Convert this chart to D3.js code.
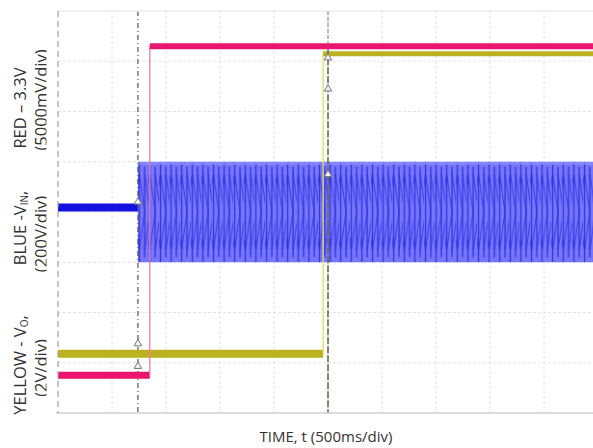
<!DOCTYPE html>
<html>
<head>
<meta charset="utf-8">
<script src="https://cdn.jsdelivr.net/npm/d3@7"></script>
<style>
  html, body { margin: 0; padding: 0; background: #fff; }
  svg { display: block; }
  text { font-family: "Open Sans", "DejaVu Sans", sans-serif; fill: #333; }
</style>
</head>
<body>
<svg id="chart" width="593" height="448"></svg>
<script>
// ---- data (time in ms, levels in screen divisions from bottom) ----
const timeGrid = [-2500, -2000, -1500, -1000, -500, 0, 500, 1000, 1500, 2000, 2500];
const levelGrid = [0, 1, 2, 3, 4, 5, 6, 7, 8];

const redTime = [-2500, -1650, -1650, 2500];
const redLevel = [0.75, 0.75, 7.30, 7.30];

const yellowTime = [-2500, -45, -45, 2500];
const yellowLevel = [1.18, 1.18, 7.15, 7.15];

const blueTime = [-2500, -1760];
const blueLevel = [4.09, 4.09];

const blueBandTime = [-1760, 2500];
const blueBandMax = [5.0, 5.0];
const blueBandMin = [3.0, 3.0];

const cursorTimes = [-1760, 0];
const markerTime = [-1760, -1760, -1760, 0, 0, 0];
const markerLevel = [4.2, 1.38, 0.93, 7.07, 6.45, 4.75];

const yLabels = [
  { line1: ["RED – 3.3V"], line2: "(5000mV/div)", c1: 108, c2: 100 },
  { line1: ["BLUE -V", "IN", ","], line2: "(200V/div)", c1: 228, c2: 234 },
  { line1: ["YELLOW - V", "O", ","], line2: "(2V/div)", c1: 365, c2: 368 }
];
const xTitle = "TIME, t (500ms/div)";

// ---- chart ----
const svg = d3.select("#chart");
const x = d3.scaleLinear().domain([-2500, 2500]).range([58, 598]);
const y = d3.scaleLinear().domain([0, 8]).range([413, 11]);

const defs = svg.append("defs");
defs.append("clipPath").attr("id", "plotclip").append("rect")
  .attr("x", x(-2500)).attr("y", y(8) - 5)
  .attr("width", x(2500) - x(-2500)).attr("height", y(0) - y(8) + 10);
defs.append("clipPath").attr("id", "labclip").append("rect")
  .attr("x", 0).attr("y", 0).attr("width", 46.5).attr("height", 448);

// texture for the dense AC waveform
const ph = y(3) - y(5);
const pw = 10.6;
const pat = defs.append("pattern").attr("id", "acwave")
  .attr("patternUnits", "userSpaceOnUse")
  .attr("x", 0).attr("y", y(5))
  .attr("width", pw).attr("height", ph);
pat.append("rect").attr("width", pw).attr("height", ph).attr("fill", "#7676fb");
pat.append("path")
  .attr("d", `M1.5,0 L1.5,${ph} M6.8,${ph*0.05} L6.8,${ph*0.95}`)
  .attr("stroke", "#3434e4").attr("stroke-width", 1.3).attr("fill", "none");
pat.append("path")
  .attr("d", `M1.5,${ph*0.12} L6.8,${ph*0.5} L1.5,${ph*0.88} M6.8,${ph*0.12} L12.1,${ph*0.5} L6.8,${ph*0.88} M-3.8,${ph*0.5} L1.5,${ph*0.12} M-3.8,${ph*0.5} L1.5,${ph*0.88}`)
  .attr("stroke", "#2a2ade").attr("stroke-width", 1.1).attr("fill", "none").attr("opacity", 0.7);
pat.append("rect").attr("x", 0).attr("y", 0).attr("width", pw).attr("height", 3)
  .attr("fill", "#8a8aff").attr("opacity", 0.8);

const plot = svg.append("g").attr("clip-path", "url(#plotclip)");

// grid
plot.append("g").selectAll("line").data(timeGrid.slice(1, -1)).join("line")
  .attr("x1", d => x(d)).attr("x2", d => x(d))
  .attr("y1", y(8)).attr("y2", y(0))
  .attr("stroke", "#e2e2e2").attr("stroke-width", 1).attr("stroke-dasharray", "3,2");
plot.append("g").selectAll("line").data(levelGrid.slice(1, -1)).join("line")
  .attr("x1", x(-2500)).attr("x2", x(2500))
  .attr("y1", d => y(d)).attr("y2", d => y(d))
  .attr("stroke", "#e4e4e4").attr("stroke-width", 1).attr("stroke-dasharray", "3,2");
// borders
svg.append("line").attr("x1", x(-2500)).attr("x2", 593).attr("y1", y(8)).attr("y2", y(8))
  .attr("stroke", "#ececec").attr("stroke-width", 1.5);
svg.append("line").attr("x1", x(-2500) - 2).attr("x2", 593).attr("y1", y(0)).attr("y2", y(0))
  .attr("stroke", "#cfcfcf").attr("stroke-width", 1.5);
svg.append("line").attr("x1", x(-2500)).attr("x2", x(-2500)).attr("y1", y(8)).attr("y2", y(0))
  .attr("stroke", "#a8a8a8").attr("stroke-width", 1.3).attr("stroke-dasharray", "6,4");

// blue band
const band = blueBandTime.map((t, i) => ({ t, hi: blueBandMax[i], lo: blueBandMin[i] }));
plot.append("path").datum(band)
  .attr("d", d3.area().x(d => x(d.t)).y0(d => y(d.lo)).y1(d => y(d.hi)))
  .attr("fill", "url(#acwave)");
// blue pre-start line
const blue = blueTime.map((t, i) => ({ t, v: blueLevel[i] }));
plot.append("path").datum(blue)
  .attr("d", d3.line().x(d => x(d.t)).y(d => y(d.v)))
  .attr("stroke", "#1212e0").attr("stroke-width", 8).attr("fill", "none");

// step trace drawer: thick horizontal, thin vertical
function drawTrace(times, levels, colorH, colorV, wLow, wHigh) {
  const pts = times.map((t, i) => ({ t, v: levels[i] }));
  const g = plot.append("g");
  d3.pairs(pts).forEach(([a, b], i) => {
    const vertical = a.t === b.t;
    g.append("path").datum([a, b])
      .attr("d", d3.line().x(d => x(d.t)).y(d => y(d.v)))
      .attr("stroke", vertical ? colorV : colorH)
      .attr("stroke-width", vertical ? 1.3 : (i === 0 ? wLow : wHigh))
      .attr("fill", "none");
  });
}

// cursor line 1
plot.append("line").attr("x1", x(cursorTimes[0])).attr("x2", x(cursorTimes[0]))
  .attr("y1", y(8)).attr("y2", y(0))
  .attr("stroke", "#555").attr("stroke-width", 1.2).attr("stroke-dasharray", "5,3,1,3");

drawTrace(yellowTime, yellowLevel, "#bab21e", "#e0dc60", 8, 5);
drawTrace(redTime, redLevel, "#e8166e", "#f27aa8", 7, 6);

// cursor line 2: light above the red trace, dark below it
plot.append("line").attr("x1", x(cursorTimes[1])).attr("x2", x(cursorTimes[1]))
  .attr("y1", y(8)).attr("y2", y(redLevel[3]) - 3)
  .attr("stroke", "#999").attr("stroke-width", 1.3).attr("stroke-dasharray", "4,2");
plot.append("line").attr("x1", x(cursorTimes[1])).attr("x2", x(cursorTimes[1]))
  .attr("y1", y(redLevel[3]) + 3).attr("y2", y(0))
  .attr("stroke", "#6a6a50").attr("stroke-width", 1.6).attr("stroke-dasharray", "7,2");

// cursor markers
plot.append("g").selectAll("path").data(markerTime.map((t, i) => ({ t, v: markerLevel[i] })))
  .join("path")
  .attr("transform", d => `translate(${x(d.t)},${y(d.v)})`)
  .attr("d", d3.symbol().type(d3.symbolTriangle).size(24))
  .attr("fill", "#f4f4f4").attr("stroke", "#777").attr("stroke-width", 1);

// y labels (rotated)
yLabels.forEach(lb => {
  const t1 = svg.append("text")
    .attr("transform", `translate(26,${lb.c1}) rotate(-90)`)
    .attr("text-anchor", "middle").attr("font-size", 16.5);
  lb.line1.forEach((s, i) => {
    const ts = t1.append("tspan").text(s);
    if (lb.line1.length > 1 && i === 1) ts.attr("font-size", 10).attr("dy", 2);
    if (lb.line1.length > 1 && i === 2) ts.attr("dy", -2);
  });
  svg.append("g").attr("clip-path", "url(#labclip)")
    .append("text")
    .attr("transform", `translate(47,${lb.c2}) rotate(-90)`)
    .attr("text-anchor", "middle").attr("font-size", 16.5)
    .text(lb.line2);
});

// x title
svg.append("text").attr("x", 326).attr("y", 442)
  .attr("text-anchor", "middle").attr("font-size", 15)
  .text(xTitle);
</script>
</body>
</html>
